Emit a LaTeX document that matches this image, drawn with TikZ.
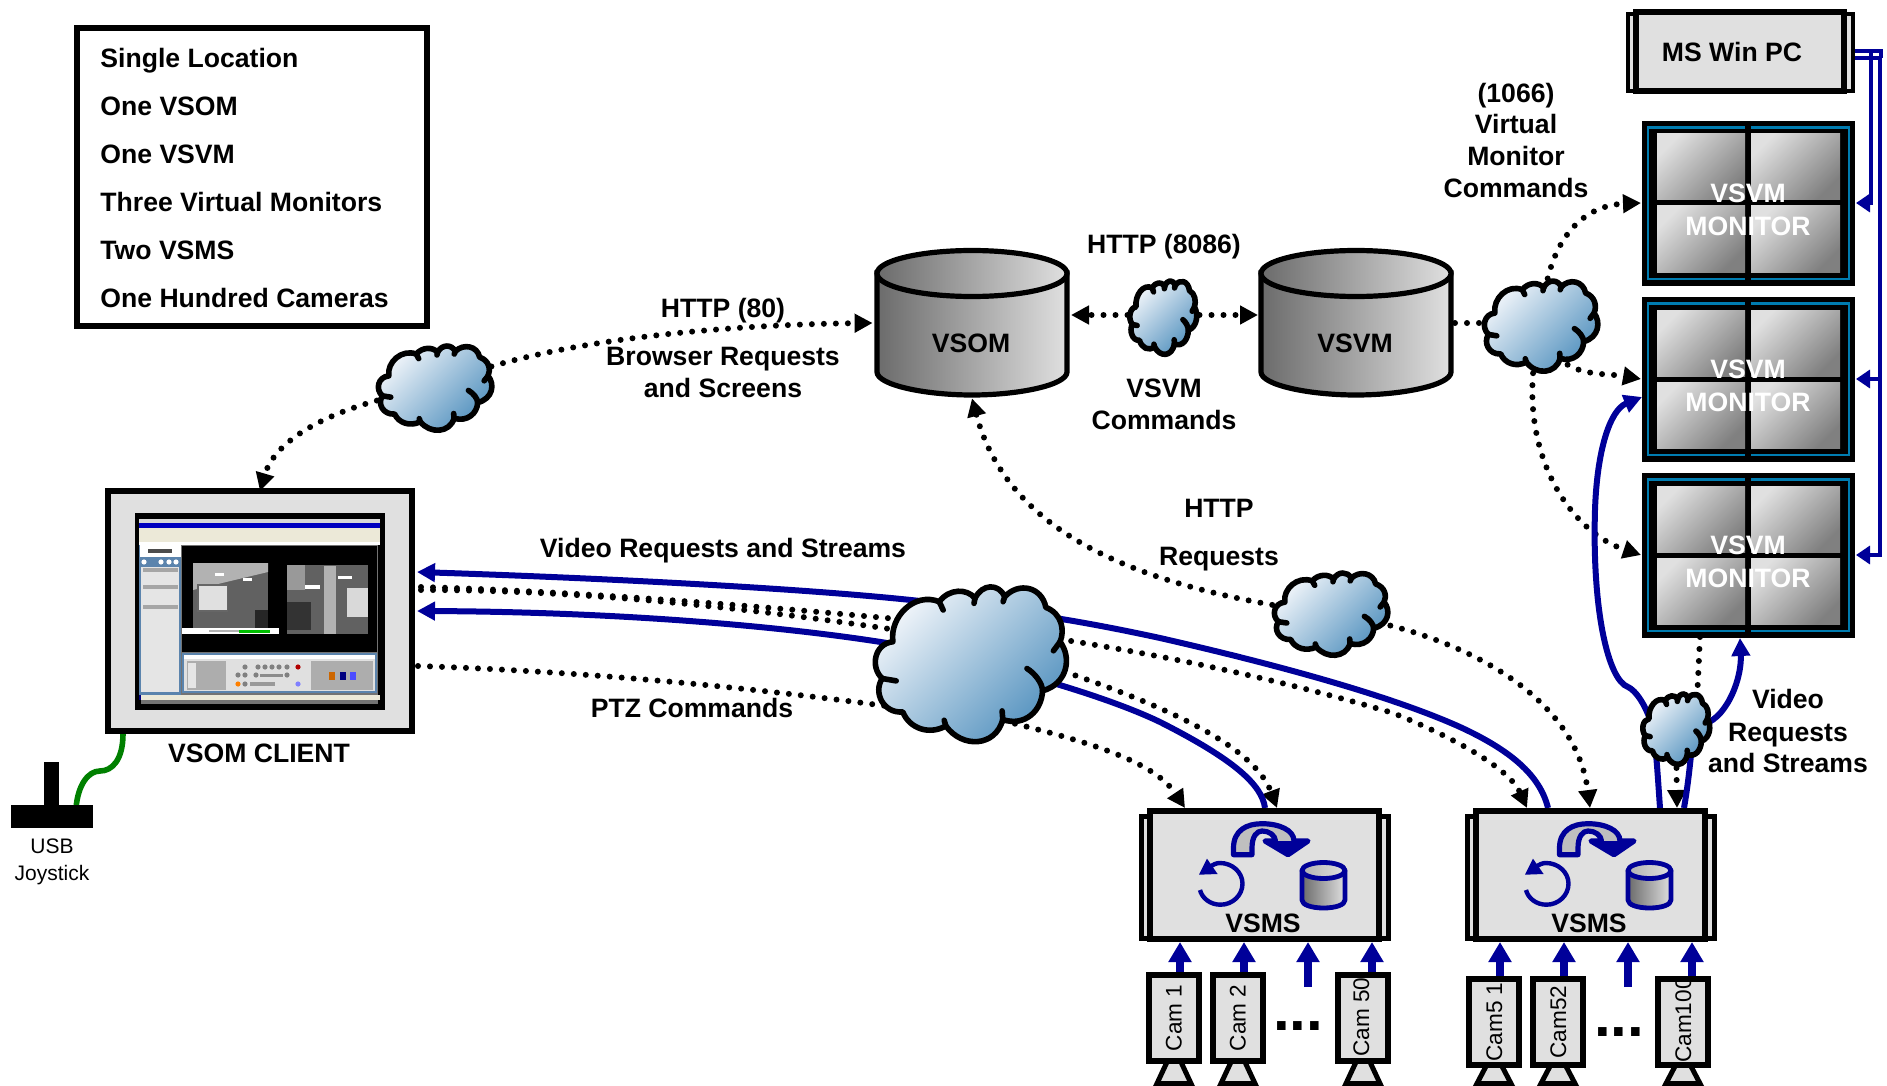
\documentclass[tikz,border=0pt]{standalone}
\usepackage{fontspec}
\setmainfont{Liberation Sans}
\usetikzlibrary{arrows.meta}
\definecolor{navy}{HTML}{000099}
\definecolor{boxgray}{HTML}{E0E0E0}
\definecolor{monblue}{HTML}{007CB0}
\definecolor{cableg}{HTML}{008000}
\definecolor{cloudA}{HTML}{F4F7FB}
\definecolor{cloudB}{HTML}{4F8FBD}
\definecolor{xpblue}{HTML}{5B84AD}
\definecolor{xpbeige}{HTML}{ECE9D8}
\pgfdeclarelayer{bg}
\pgfsetlayers{bg,main}
\tikzset{
  lbl/.style={font=\fontsize{13.3}{15}\selectfont\bfseries,inner sep=0pt,align=center,text=black,text height=9.5pt,text depth=0pt},
  lblleft/.style={lbl,anchor=west},
  lblwhite/.style={lbl,text=white},
  plainlbl/.style={font=\fontsize{10.5}{12}\selectfont,inner sep=0pt,align=center,text height=7.6pt,text depth=0pt},
  camlbl/.style={font=\fontsize{11.3}{12}\selectfont,inner sep=0pt,align=center,text height=8pt,text depth=0pt},
  graybox/.style={draw=black,fill=boxgray},
  dotline/.style={draw=black,line width=3pt,line cap=round,dash pattern=on 0pt off 6pt},
  dotarrow/.style={dotline,-{Triangle[length=9pt,width=9pt]}},
  bluearc/.style={draw=navy,line width=3pt},
  bluearrow/.style={bluearc,-{Triangle[length=9pt,width=9pt]}},
  thinblue/.style={draw=navy,line width=1.7pt},
  thinarrow/.style={thinblue,-{Triangle[length=7pt,width=9pt]}},
  uparrow/.style={draw=navy,line width=4pt,-{Triangle[length=10pt,width=11pt]}},
  panel/.style={top color=boxgray,bottom color=black!50,shading angle=45},
  cyl/.style={draw=black,line width=2.6pt,left color=black!58,right color=boxgray},
  iconline/.style={draw=navy,line width=2.2pt,line join=round},
  cloudline/.style={draw=black,line width=2.8pt,line join=round,line cap=round},
  scr/.style={inner sep=0pt},
}
% name, style, x0,y0,x1,y1 : centre line of the border, in pixels
\newcommand{\bx}[6]{%
  \pgfmathsetmacro\bxw{(#5-#3)*0.5}\pgfmathsetmacro\bxh{(#6-#4)*0.5}%
  \pgfmathsetmacro\bxcx{(#3+#5)/2}\pgfmathsetmacro\bxcy{(#4+#6)/2}%
  \node[#2,inner sep=0pt,outer sep=0pt,minimum width=\bxw pt,minimum height=\bxh pt] (#1) at (\bxcx,\bxcy) {};}
% name, x0,y0,x1,y1 : outer limits of the cloud
\newcommand{\cloudpic}[5]{%
  \pgfmathsetmacro\csx{(#4-#2)/595*0.5}\pgfmathsetmacro\csy{-(#5-#3)/473*0.5}%
  \begin{scope}[shift={(#2,#3)},x=\csx pt,y=\csy pt]
    \filldraw[cloudline,top color=cloudA,bottom color=cloudB,shading angle=45]
      (60,170) .. controls (50,95) and (125,20) .. (200,50)
      .. controls (230,10) and (285,10) .. (308,40)
      .. controls (330,-5) and (380,-5) .. (398,35)
      .. controls (440,-10) and (510,5) .. (522,67)
      .. controls (570,85) and (580,135) .. (565,170)
      .. controls (600,215) and (590,295) .. (512,317)
      .. controls (510,375) and (460,425) .. (392,403)
      .. controls (370,485) and (270,490) .. (220,422)
      .. controls (170,450) and (110,430) .. (90,380)
      .. controls (30,385) and (0,320) .. (28,280)
      .. controls (-10,245) and (5,175) .. (60,170) -- cycle;
    \draw[cloudline] (200,50) -- (212,75);
    \draw[cloudline] (308,40) -- (305,55);
    \draw[cloudline] (398,35) -- (393,50);
    \draw[cloudline] (565,170) -- (545,197);
    \draw[cloudline] (28,280) -- (70,287);
    \draw[cloudline] (392,403) -- (390,377);
    \draw[cloudline] (220,422) -- (215,405);
    \draw[cloudline] (465,250) .. controls (490,265) and (512,295) .. (512,317);
  \end{scope}
  \pgfmathsetmacro\bxcx{(#2+#4)/2}\pgfmathsetmacro\bxcy{(#3+#5)/2}%
  \node[inner sep=0pt] (#1) at (\bxcx,\bxcy) {};}
% name, y of top
\newcommand{\vsvmmon}[2]{%
  \begin{scope}[shift={(0,#2)}]
    \bx{#1}{fill=black}{1642}{0}{1855}{165}
    \draw[monblue,line width=1.3pt] (1648,6.5) rectangle (1849,158);
    \draw[black,line width=3pt] (1748,0) -- (1748,165);
    \shade[panel] (1657,13) rectangle (1745,79);
    \shade[panel] (1751,13) rectangle (1840,79);
    \shade[panel] (1657,85) rectangle (1745,151);
    \shade[panel] (1751,85) rectangle (1840,151);
    \node[lblwhite] (#1t1) at (1748,72) {VSVM};
    \node[lblwhite] (#1t2) at (1748,105) {MONITOR};
  \end{scope}}
% name, main box left
\newcommand{\vsmsbox}[2]{%
  \begin{scope}[shift={(#2,0)}]
    \bx{#1s}{graybox,line width=2.5pt}{-5.5}{816}{241.5}{938}
    \bx{#1}{graybox,line width=3pt}{3}{811}{232}{939}
    \begin{scope}[shift={(0,808)}]
      \filldraw[iconline,line width=2.6pt,fill=black!25] (86.5,46.7) -- (86.5,40) .. controls (86.5,22) and (100,15.7) .. (115,15.7)
        .. controls (132,15.7) and (147,22) .. (147,33) -- (161,33) -- (141,46.7) -- (118,33) -- (128.5,33)
        .. controls (128,27) and (122,23) .. (115,23) .. controls (110,23) and (105,28) .. (105,40) -- (105,46.7) -- cycle;
      \fill[navy] (118,33) -- (161,33) -- (141,46.7) -- cycle;
      \draw[iconline] (62,60) .. controls (66,56) and (70,55) .. (73,55) .. controls (85,55) and (95.5,64) .. (95.5,75.7)
        .. controls (95.5,87.2) and (85.6,96.7) .. (73.5,96.7) .. controls (63,96.7) and (55,90) .. (53,82);
      \fill[navy] (60,50.7) -- (52,66.7) -- (70.6,66) -- cycle;
      \filldraw[iconline,line width=2.4pt,left color=black!58,right color=boxgray] (155,62.5) -- (155,92) .. controls (155,97) and (165,100) .. (176.5,100)
        .. controls (188,100) and (198,97) .. (198,92) -- (198,62.5) -- cycle;
      \filldraw[iconline,line width=2.4pt,left color=black!30,right color=boxgray] (176.5,62.5) ellipse [x radius=21.5, y radius=8];
      \node[lbl] (#1t) at (116,115) {VSMS};
    \end{scope}
  \end{scope}}
% name, left, top, label, label x, label y
\newcommand{\camera}[6]{%
  \pgfmathsetmacro\camcx{#2+25}\pgfmathsetmacro\cama{#2+8}\pgfmathsetmacro\camb{#2+42}\pgfmathsetmacro\camt{#3+72}%
  \draw[black,line width=2.5pt,fill=boxgray] (\cama,1083.5) -- (\camb,1083.5) -- (\camcx,\camt) -- cycle;
  \bx{#1}{graybox,line width=2.6pt}{#2+3}{#3+2.5}{#2+47}{#3+83.5}
  \node[camlbl,rotate=90] (#1t) at (#5,#6) {#4};}
\newcommand{\scrdot}[3]{\fill[#3] (#1,#2) circle [radius=2.6];}

\begin{document}
\begin{tikzpicture}[x=0.5pt,y=-0.5pt]
\useasboundingbox (0,0) rectangle (1887,1086);

% legend
\bx{legend}{draw=black,line width=3pt,fill=white}{76.5}{28.5}{427}{326}
\node[lblleft] (l1) at (100,58) {Single Location};
\node[lblleft] (l2) at (100,106) {One VSOM};
\node[lblleft] (l3) at (100,154) {One VSVM};
\node[lblleft] (l4) at (100,202) {Three Virtual Monitors};
\node[lblleft] (l5) at (100,250) {Two VSMS};
\node[lblleft] (l6) at (100,298) {One Hundred Cameras};

% MS Win PC
\bx{pcs}{graybox,line width=2pt}{1628}{14}{1853}{91}
\bx{pc}{graybox,line width=3pt}{1636}{12}{1844}{91}
\node[lbl] (pct) at (1732,52) {MS Win PC};

% monitors
\vsvmmon{mona}{121}
\vsvmmon{monb}{297}
\vsvmmon{monc}{473}

% VSOM and VSVM
\node[inner sep=0pt,minimum width=99pt,minimum height=75pt] (vsom) at (972,323) {};
\draw[cyl] (877,273) -- (877,372) .. controls (877,385) and (925,395) .. (972,395) .. controls (1019,395) and (1067,385) .. (1067,372) -- (1067,273) -- cycle;
\draw[cyl] (972,273.5) ellipse [x radius=95, y radius=23];
\node[lbl] (vsomt) at (971,343) {VSOM};
\node[inner sep=0pt,minimum width=99pt,minimum height=75pt] (vsvm) at (1356,323) {};
\draw[cyl] (1261,273) -- (1261,372) .. controls (1261,385) and (1309,395) .. (1356,395) .. controls (1403,395) and (1451,385) .. (1451,372) -- (1451,273) -- cycle;
\draw[cyl] (1356,273.5) ellipse [x radius=95, y radius=23];
\node[lbl] (vsvmt) at (1355,343) {VSVM};

% client
\bx{client}{graybox,line width=3pt}{108}{491}{412}{731}
\fill[black] (135,513) rectangle (385,710);
\fill[black!55] (141,519) rectangle (378,704);
\fill[white!85!black] (139,519) rectangle (380,523);
\fill[blue!75!black] (139,523) rectangle (380,528);
\fill[xpbeige] (139,528) rectangle (380,542);
\fill[white] (139,542) rectangle (380,545);
\fill[xpblue] (139,545) rectangle (181,695);
\fill[white] (140,545) rectangle (181,557);
\fill[black!70] (148,549) rectangle (172,553);
\fill[black!10] (141,567) rectangle (179,692);
\fill[black!35] (143,568) rectangle (178,572);
\fill[black!35] (143,585) rectangle (178,589);
\fill[black!35] (143,605) rectangle (178,609);
\scrdot{144}{562}{white}\scrdot{161}{562}{white}\scrdot{169}{562}{white}\scrdot{176}{562}{white}
\fill[black] (182,546) rectangle (377,652);
% camera pictures
\fill[black!62] (193,563) rectangle (268,628);
\fill[black!30] (193,563) -- (268,563) -- (268,572) -- (193,590) -- cycle;
\fill[black!85] (255,610) rectangle (268,628);
\fill[black!60] (197,584) rectangle (228,612);
\fill[black!12] (199,586) rectangle (227,610);
\fill[white] (215,573) rectangle (224,576);
\fill[white] (243,578) rectangle (252,581);
\fill[white] (182,628) rectangle (279,634);
\fill[black!30] (209,630) rectangle (239,632);
\fill[green!75!black] (239,630) rectangle (270,633);
\fill[black!62] (287,565) rectangle (368,634);
\fill[black!80] (287,602) rectangle (311,630);
\fill[black!40] (287,565) rectangle (305,590);
\fill[black!30] (324,566) rectangle (336,634);
\fill[black!15] (347,588) rectangle (368,617);
\fill[white] (305,585) rectangle (320,589);
\fill[white] (338,576) rectangle (352,579);
% control panel
\fill[xpblue] (182,653) rectangle (377,693);
\fill[black!12] (184,655) rectangle (375,691);
\fill[white] (184,655) rectangle (375,659);
\fill[black!32] (187,661) rectangle (226,690);
\fill[black!32] (311,661) rectangle (373,690);
\fill[black!10] (188,663) rectangle (196,688);
\scrdot{245}{667}{black!50}\scrdot{258}{667}{black!50}\scrdot{265}{667}{black!50}\scrdot{272}{667}{black!50}\scrdot{279}{667}{black!50}\scrdot{287}{667}{black!50}\scrdot{298}{667}{red!70!black}
\scrdot{238}{675}{black!50}\scrdot{245}{675}{black!50}\scrdot{256}{675}{black!50}\scrdot{287}{675}{black!50}
\scrdot{238}{684}{orange}\scrdot{245}{684}{black!50}\scrdot{298}{684}{blue!50}
\fill[black!45] (260,674) rectangle (283,677);
\fill[black!40] (250,682) rectangle (275,686);
\fill[orange!80!black] (329,672) rectangle (335,680);
\fill[blue!50!black] (340,672) rectangle (346,680);
\fill[blue!70] (350,672) rectangle (356,680);
\fill[xpbeige] (139,695) rectangle (380,700);
\fill[blue!50!black] (139,695) rectangle (141,700);
\node[lbl] (clientt) at (259,753) {VSOM CLIENT};

% joystick
\bx{joy}{fill=black}{11}{805}{93}{828}
\bx{stick}{fill=black}{44}{762}{59}{805}
\node[plainlbl] (joyt1) at (52,846) {USB};
\node[plainlbl] (joyt2) at (52,873) {Joystick};

% VSMS
\vsmsbox{vsmsa}{1147}
\vsmsbox{vsmsb}{1473}

% cameras
\camera{cama}{1149}{975}{Cam 1}{1173.5}{1018}
\camera{camb}{1213}{975}{Cam 2}{1237.5}{1018}
\camera{camc}{1338}{975}{Cam 50}{1361}{1017}
\camera{camd}{1469}{979}{Cam5 1}{1494}{1022}
\camera{came}{1533}{979}{Cam52}{1558}{1022}
\camera{camf}{1658}{979}{Cam100}{1683}{1020}
\node[font=\fontsize{30}{30}\selectfont\bfseries,inner sep=0pt] (dotsa) at (1298,1026) {...};
\node[font=\fontsize{30}{30}\selectfont\bfseries,inner sep=0pt] (dotsb) at (1619,1032) {...};

% clouds
\cloudpic{cl}{377}{345}{494}{431}
\cloudpic{cv}{1129}{280}{1198}{355}
\cloudpic{cm}{1483}{280}{1600}{372}
\cloudpic{ch}{1273}{572}{1390}{656}
\cloudpic{cb}{873}{585}{1070}{743}
\cloudpic{cs}{1642}{693}{1711}{765}

% labels
\node[lbl] (t1) at (723,308) {HTTP (80)};
\node[lbl] (t2) at (723,356) {Browser Requests};
\node[lbl] (t3) at (723,388) {and Screens};
\node[lbl] (t4) at (1164,244) {HTTP (8086)};
\node[lbl] (t5) at (1164,388) {VSVM};
\node[lbl] (t6) at (1164,420) {Commands};
\node[lbl] (t7) at (1516,93) {(1066)};
\node[lbl] (t8) at (1516,124) {Virtual};
\node[lbl] (t9) at (1516,156) {Monitor};
\node[lbl] (t10) at (1516,188) {Commands};
\node[lbl] (t11) at (1219,508) {HTTP};
\node[lbl] (t12) at (1219,556) {Requests};
\node[lbl] (t13) at (723,548) {Video Requests and Streams};
\node[lbl] (t14) at (692,708) {PTZ Commands};
\node[lbl] (t15) at (1788,699) {Video};
\node[lbl] (t16) at (1788,732) {Requests};
\node[lbl] (t17) at (1788,763) {and Streams};

% connector end points
\coordinate (vsomE) at (1071,315);
\coordinate (vsvmW) at (1258,315);
\coordinate (vsvmE) at (1455,323);
\coordinate (monaW) at (1641,203);
\coordinate (monbW) at (1641,379);
\coordinate (moncW) at (1641,555);
\coordinate (monbW2) at (1642,397);
\coordinate (moncS) at (1700,637);
\coordinate (moncS2) at (1740,638);
\coordinate (csT) at (1697,700);
\coordinate (csA) at (1653,730);
\coordinate (csB) at (1692,745);
\coordinate (csC) at (1700,725);
\coordinate (csD) at (1628,687);
\coordinate (csE) at (1595,510);
\coordinate (clientE1) at (417,572);
\coordinate (clientE2) at (417,611);
\coordinate (clientD1) at (421,587);
\coordinate (clientD2) at (421,590);
\coordinate (clientD3) at (418,666);
\coordinate (cbA) at (960,606);
\coordinate (cbB) at (950,655);
\coordinate (cbC) at (1000,630);
\coordinate (cbD) at (1030,660);
\coordinate (cbE) at (980,715);
\coordinate (cbF) at (930,622);
\coordinate (cbG) at (930,635);
\coordinate (cbH) at (950,715);
\coordinate (wpA) at (1460,727);
\coordinate (wpA2) at (1160,638);
\coordinate (wpB) at (1160,722);
\coordinate (wpC) at (1393,713);
\coordinate (vaD1) at (1185,808);
\coordinate (vaB) at (1265,808);
\coordinate (vaD2) at (1277,808);
\coordinate (vbD1) at (1527,808);
\coordinate (vbB1) at (1548,808);
\coordinate (vbD2) at (1590,808);
\coordinate (vbB2) at (1660,808);
\coordinate (vbD3) at (1677,808);
\coordinate (vbB3) at (1684,808);
\coordinate (joyC) at (76,808);
\coordinate (clientJ) at (123,734);
\coordinate (joyW) at (100,771);
\coordinate (pcA) at (1847,51);
\coordinate (pcB) at (1843,58);
\coordinate (monaE) at (1856,203);
\coordinate (monbE) at (1856,379);
\coordinate (moncE) at (1856,555);
\coordinate (a1) at (1180,942);
\coordinate (a2) at (1244,942);
\coordinate (a3) at (1308,942);
\coordinate (a3s) at (1308,987);
\coordinate (a4) at (1372,942);
\coordinate (b1) at (1500,942);
\coordinate (b2) at (1564,942);
\coordinate (b3) at (1628,942);
\coordinate (b3s) at (1628,987);
\coordinate (b4) at (1692,942);

\begin{pgfonlayer}{bg}
  % dotted connectors
  \draw[dotarrow] (cl.center) .. controls (520,345) and (700,325) .. (vsom.west);
  \draw[dotarrow] (cl.center) .. controls (330,405) and (275,440) .. (client.north);
  \draw[dotarrow] (cv.center |- vsomE) -- (vsomE);
  \draw[dotarrow] (cv.center |- vsomE) -- (vsvmW);
  \draw[dotline] (vsvmE) -- (cm.center |- vsvmE);
  \draw[dotarrow] (cm.center) .. controls (1545,230) and (1590,205) .. (monaW);
  \draw[dotarrow] (cm.center) .. controls (1555,380) and (1600,372) .. (monbW);
  \draw[dotarrow] (cm.center) .. controls (1510,440) and (1565,530) .. (moncW);
  \draw[dotarrow] (ch.center) .. controls (1150,590) and (1010,540) .. (vsom.south);
  \draw[dotarrow] (ch.center) .. controls (1450,630) and (1575,690) .. (vbD2);
  \draw[dotarrow] (cbC) .. controls (1100,645) and (1230,665) .. (wpC) .. controls (1460,740) and (1510,770) .. (vbD1);
  \draw[dotarrow] (cbD) .. controls (1120,690) and (1250,735) .. (vaD2);
  \draw[dotarrow] (cbE) .. controls (1060,735) and (1150,755) .. (vaD1);
  \draw[dotline] (clientD1) .. controls (600,592) and (800,610) .. (cbF);
  \draw[dotline] (clientD2) .. controls (600,590) and (780,612) .. (cbG);
  \draw[dotline] (clientD3) .. controls (600,672) and (780,690) .. (cbH);
  \draw[dotline] (moncS) -- (csT);
  \draw[dotarrow] (cs.center |- vbD3) ++(0,-40) -- (vbD3);
  % blue connectors
  \draw[bluearrow] (vbB1) .. controls (1540,775) and (1510,750) .. (wpA) .. controls (1400,700) and (1300,670) .. (wpA2) .. controls (1100,625) and (1030,612) .. (cbA) .. controls (850,590) and (600,578) .. (clientE1);
  \draw[bluearrow] (vaB) .. controls (1262,785) and (1235,760) .. (wpB) .. controls (1110,698) and (1030,675) .. (cbB) .. controls (850,632) and (650,612) .. (clientE2);
  \draw[bluearrow] (vbB2) .. controls (1658,780) and (1656,745) .. (csA) .. controls (1647,705) and (1635,690) .. (csD) .. controls (1608,680) and (1592,610) .. (csE) .. controls (1597,450) and (1610,410) .. (monbW2);
  \draw[bluearrow] (vbB3) .. controls (1688,785) and (1690,765) .. (csB) -- (csC) .. controls (1725,722) and (1742,680) .. (moncS2);
  % camera arrows
  \draw[uparrow] (a1 |- cama.north) -- (a1);
  \draw[uparrow] (a2 |- camb.north) -- (a2);
  \draw[uparrow] (a3s) -- (a3);
  \draw[uparrow] (a4 |- camc.north) -- (a4);
  \draw[uparrow] (b1 |- camd.north) -- (b1);
  \draw[uparrow] (b2 |- came.north) -- (b2);
  \draw[uparrow] (b3s) -- (b3);
  \draw[uparrow] (b4 |- camf.north) -- (b4);
  % PC to monitors
  \draw[thinarrow] (pcA) -- (1871,51) -- (1871,203) -- (monaE);
  \draw[thinblue] (1871,51) -- (1881,51) -- (1881,58);
  \draw[thinarrow] (pcB) -- (1880,58) -- (1880,379) -- (monbE);
  \draw[thinarrow] (1880,379) -- (1880,555) -- (moncE);
  % joystick cable
  \draw[cableg,line width=2.8pt] (joyC) .. controls (78,785) and (88,771) .. (joyW) .. controls (112,771) and (123,760) .. (clientJ);
\end{pgfonlayer}
\end{tikzpicture}
\end{document}
